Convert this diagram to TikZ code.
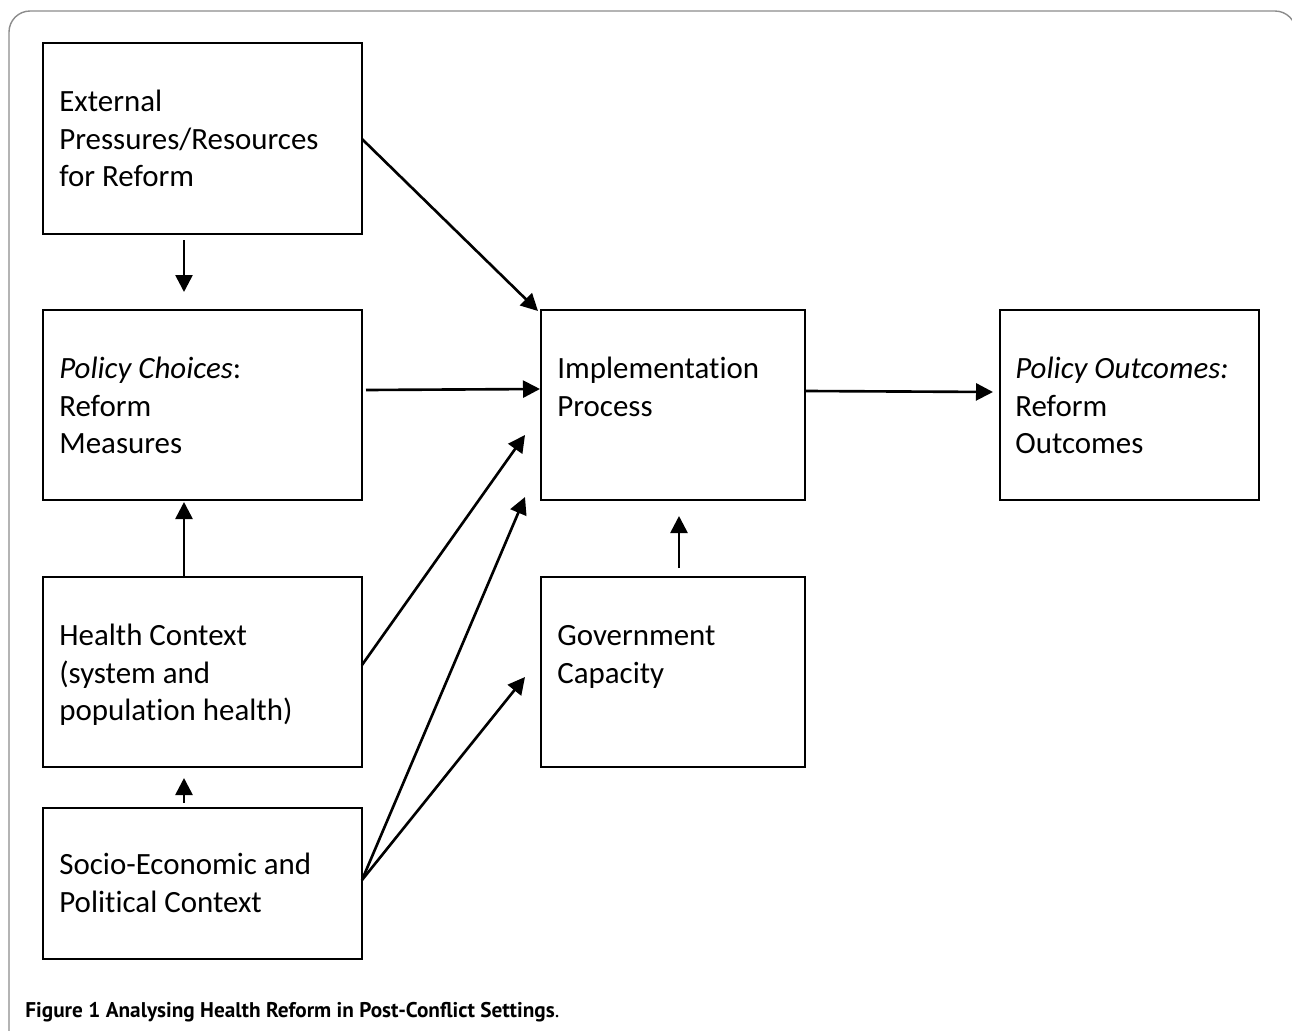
\documentclass[tikz,border=0pt]{standalone}
\usepackage{fontspec}
\setmainfont{Carlito}[Ligatures={NoCommon}]
\newfontfamily\capfont{PT Sans}
\usetikzlibrary{arrows.meta}
\definecolor{framegray}{gray}{0.55}
\tikzset{
  box/.style={draw, line width=1.15pt, inner sep=0pt},
  txt/.style={anchor=north west, inner sep=0pt, align=left, font=\fontsize{17.6}{21.5}\selectfont},
  arr/.style={line width=1.5pt, -{Triangle[length=0.34cm,width=0.34cm]}},
}
\begin{document}
\begin{tikzpicture}[x=0.02cm,y=-0.02cm]
\useasboundingbox (0,0) rectangle (1292,1031);
\begin{scope}
\clip (0,0) rectangle (1292,1031);
\draw[framegray, line width=0.8pt, rounded corners=12] (9,11) rectangle (1296,1060);
\end{scope}
% boxes
\node[box, minimum width=6.38cm, minimum height=3.82cm] (ext) at (202.5,138.5) {};
\node[box, minimum width=6.38cm, minimum height=3.80cm] (pol) at (202.5,405) {};
\node[box, minimum width=6.38cm, minimum height=3.80cm] (hea) at (202.5,672) {};
\node[box, minimum width=6.38cm, minimum height=3.02cm] (soc) at (202.5,883.5) {};
\node[box, minimum width=5.28cm, minimum height=3.80cm] (imp) at (673,405) {};
\node[box, minimum width=5.28cm, minimum height=3.80cm] (gov) at (673,672) {};
\node[box, minimum width=5.18cm, minimum height=3.80cm] (out) at (1129.5,405) {};
% texts (first baseline = top + strut height)
\node[txt] (extT) at (59,84.5) {\strut External\\Pressures/Resources\\for Reform};
\node[txt] (polT) at (59,351.5) {\strut\textit{Policy Choices}:\\Reform\\Measures};
\node[txt] (heaT) at (59,618.5) {\strut Health Context\\(system and\\population health)};
\node[txt] (socT) at (59,847.5) {\strut Socio-Economic and\\Political Context};
\node[txt] (impT) at (557,351.5) {\strut Implementation\\Process};
\node[txt] (govT) at (557,618.5) {\strut Government\\Capacity};
\node[txt] (outT) at (1015,351.5) {\strut\textit{Policy Outcomes:}\\Reform\\Outcomes};
% arrow end points
\coordinate (a1s) at (184,240);  \coordinate (a1e) at (184,292);
\coordinate (a2s) at (362,139);  \coordinate (a2e) at (538,311);
\coordinate (a3s) at (366,390);  \coordinate (a3e) at (540,389);
\coordinate (a4s) at (184,578);  \coordinate (a4e) at (184,502);
\coordinate (a5s) at (362,665);  \coordinate (a5e) at (525,435);
\coordinate (a6s) at (184,803);  \coordinate (a6e) at (184,778);
\coordinate (a7s) at (362,880);  \coordinate (a7e) at (525,497);
\coordinate (a8e) at (525,677);
\coordinate (a9s) at (679,568);  \coordinate (a9e) at (679,516);
\coordinate (a10s) at (806,391); \coordinate (a10e) at (993,392);
\draw[arr] (a1s) -- (a1e);
\draw[arr] (a2s) -- (a2e);
\draw[arr] (a3s) -- (a3e);
\draw[arr] (a4s) -- (a4e);
\draw[arr] (a5s) -- (a5e);
\draw[arr] (a6s) -- (a6e);
\draw[arr] (a7s) -- (a7e);
\draw[arr] (a7s) -- (a8e);
\draw[arr] (a9s) -- (a9e);
\draw[arr] (a10s) -- (a10e);
% caption
\node[anchor=base west, inner sep=0pt, font=\fontsize{12.1}{14}\selectfont] (cap) at (25,1017)
  {{\capfont\bfseries Figure 1 Analysing Health Reform in Post-Conflict Settings}{\capfont .}};
\end{tikzpicture}
\end{document}
